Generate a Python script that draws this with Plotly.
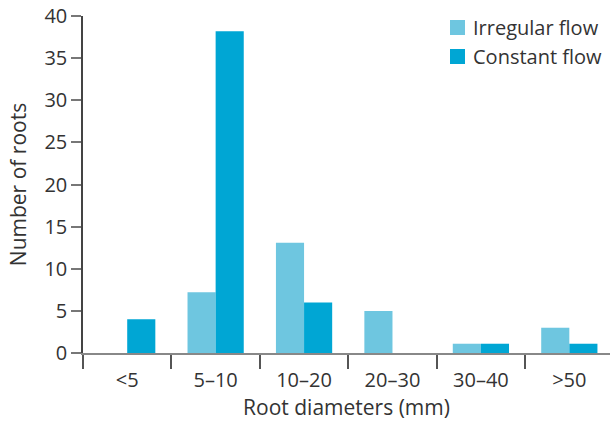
import plotly.graph_objects as go

categories = ["<5", "5–10", "10–20", "20–30", "30–40", ">50"]
irregular = [0, 7.2, 13.1, 5, 1.1, 3]
constant = [4, 38.2, 6, 0, 1.1, 1.1]
y_ticks = [0, 5, 10, 15, 20, 25, 30, 35, 40]
series_names = ["Irregular flow", "Constant flow"]
series_colors = ["#6EC6E0", "#00A6D4"]

FONT = "Open Sans"
TXT = "#333333"
W, H = 610, 421
L, R, T, B = 83, 0, 16, 68

fig = go.Figure()
for name, vals, col in zip(series_names, [irregular, constant], series_colors):
    fig.add_trace(go.Bar(x=categories, y=vals, name=name,
                         marker=dict(color=col, line=dict(width=0))))

# legend drawn manually (paper coordinates) for exact placement
pw, ph = W - L - R, H - T - B
def px_x(p): return (p - L) / pw
def px_y(p): return (H - B - p) / ph
legend_rows = [27.5, 56.5]
for name, col, yc in zip(series_names, series_colors, legend_rows):
    fig.add_shape(type="rect", xref="paper", yref="paper",
                  x0=px_x(450), x1=px_x(465), y0=px_y(yc + 7.5), y1=px_y(yc - 7.5),
                  fillcolor=col, line=dict(width=0))
    fig.add_annotation(xref="paper", yref="paper", x=px_x(471), y=px_y(yc),
                       xanchor="left", yanchor="middle", text=name, showarrow=False,
                       font=dict(size=20, color=TXT, family=FONT))

fig.update_layout(
    width=W, height=H,
    margin=dict(l=L, r=R, t=T, b=B, autoexpand=False),
    paper_bgcolor="white", plot_bgcolor="white",
    barmode="group", bargap=0.364, bargroupgap=0,
    font=dict(family=FONT, size=20, color=TXT),
    showlegend=False,
    xaxis=dict(
        type="category", range=[-0.5, 5.46], automargin=False,
        showline=True, linecolor="#888888", linewidth=1.5,
        ticks="outside", tickson="boundaries", ticklen=14,
        tickcolor="#555555", tickwidth=1.5,
        showgrid=False, zeroline=False, ticklabelstandoff=8,
        title=dict(text="Root diameters (mm)", font=dict(size=21), standoff=3),
        tickfont=dict(size=20),
    ),
    yaxis=dict(
        range=[0, 40], tickvals=y_ticks, automargin=False,
        showline=True, linecolor="#444444", linewidth=1.5,
        ticks="outside", ticklen=10, tickcolor="#777777", tickwidth=1.5,
        showgrid=False, zeroline=False,
        title=dict(text="Number of roots", font=dict(size=21), standoff=12),
        tickfont=dict(size=20),
    ),
)

fig.write_html("out.html", config={"displayModeBar": False},
               post_script="document.body.style.margin='0';document.body.style.overflow='hidden';")
